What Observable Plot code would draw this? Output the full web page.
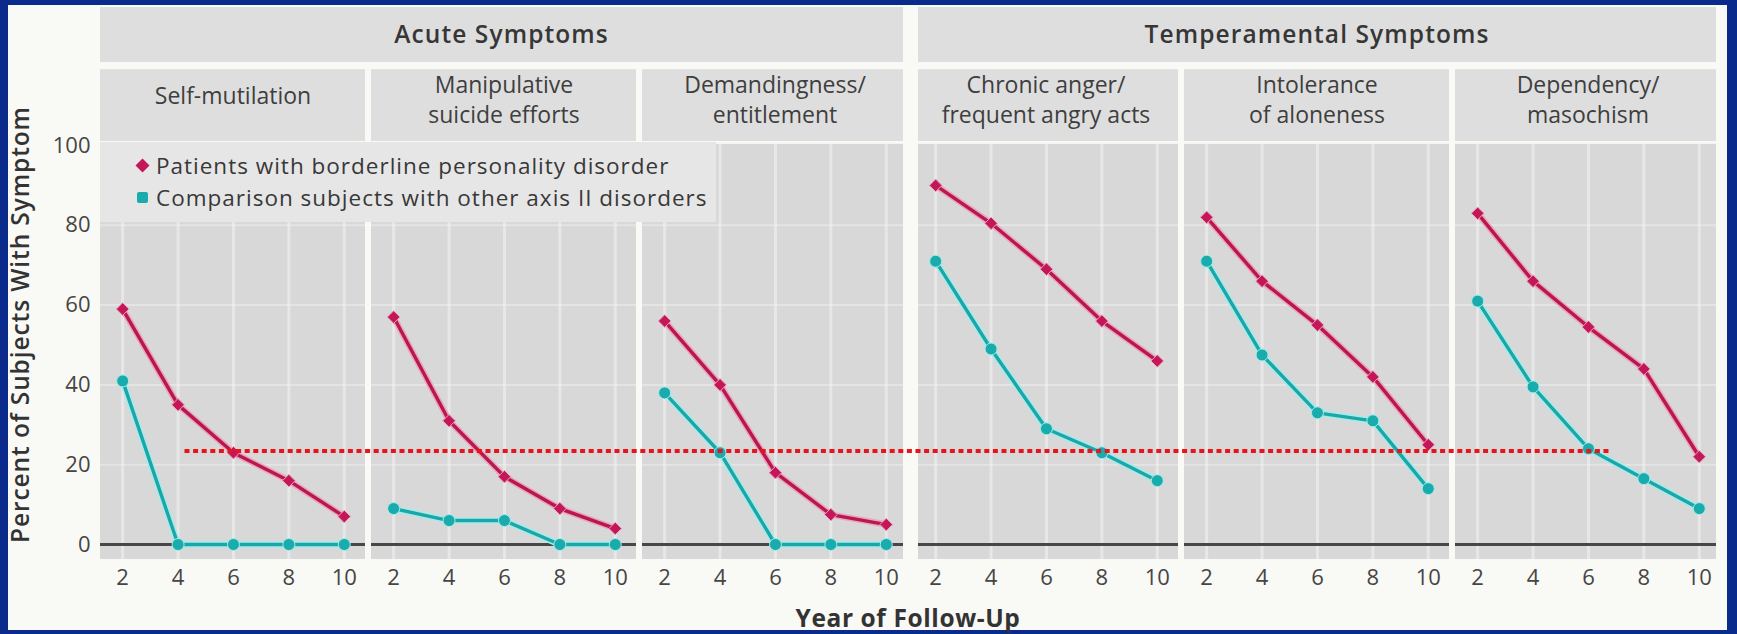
<!DOCTYPE html>
<html>
<head>
<meta charset="utf-8">
<script src="https://cdn.jsdelivr.net/npm/d3@7"></script>
<script src="https://cdn.jsdelivr.net/npm/@observablehq/plot@0.6"></script>
<style>
  html, body { margin: 0; padding: 0; width: 1737px; height: 634px; overflow: hidden; background: #0a2a8c; }
  #frame { position: absolute; left: 8px; top: 5px; width: 1719px; height: 625px; background: #f9f9f6;
           font-family: "Open Sans", sans-serif; }
  #chart { position: absolute; left: 0; top: 0; }
  #legend { position: absolute; left: 92px; top: 137px; width: 616px; height: 80px; background: #e6e6e6; }
  .item { position: absolute; left: 0; height: 30px; display: flex; align-items: center; font-size: 22.5px; letter-spacing: 1px; color: #383838; white-space: nowrap; }
  .item svg { margin-left: 35px; margin-right: 6px; }
</style>
</head>
<body>
<div id="frame">
  <div id="chart"></div>
  <div id="legend"></div>
</div>
<script>
// ---------------- data ----------------
const panels = [
  "Self-mutilation",
  "Manipulative\nsuicide efforts",
  "Demandingness/\nentitlement",
  "Chronic anger/\nfrequent angry acts",
  "Intolerance\nof aloneness",
  "Dependency/\nmasochism"
];
const groups = ["Acute Symptoms", "Temperamental Symptoms"];
const panelGroup = [0, 0, 0, 1, 1, 1];
const years = [2, 4, 6, 8, 10];
const seriesNames = [
  "Patients with borderline personality disorder",
  "Comparison subjects with other axis II disorders"
];
const borderline = [
  [59, 35, 23, 16, 7],
  [57, 31, 17, 9, 4],
  [56, 40, 18, 7.5, 5],
  [90, 80.5, 69, 56, 46],
  [82, 66, 55, 42, 25],
  [83, 66, 54.5, 44, 22]
];
const comparison = [
  [41, 0, 0, 0, 0],
  [9, 6, 6, 0, 0],
  [38, 23, 0, 0, 0],
  [71, 49, 29, 23, 16],
  [71, 47.5, 33, 31, 14],
  [61, 39.5, 24, 16.5, 9]
];
const yTicks = [0, 20, 40, 60, 80, 100];
const gridY = [20, 40, 60, 80];
const threshold = 23.3;
const thresholdFrom = [0, 4.25]; // [panel index, year]
const thresholdTo = [5, 6.85];
const xTitle = "Year of Follow-Up";
const yTitle = "Percent of Subjects With Symptom";

// ---------------- layout / style ----------------
const W = 1719, H = 625;
const ML = 92, MR = 7, MT = 140, MB = 86;
const STEP = 271, BAND = 265, PXU = 27.7;
const X0 = 1.2, X1 = X0 + BAND / PXU;
const ext = panels.map((p, i) => [i === 3 ? X0 + 5 / PXU : X0, (i === 2 || i === 5) ? X1 - 4 / PXU : X1]);
const COLORS = { red: "#b9174f", redHalo: "#eaa6be", redDot: "#c4175a", teal: "#1ca6a7", tealHalo: "#a4ecec", tealDot: "#1aabac" };
const PANEL_BG = "#d8d8d8", HEAD_BG = "#dedede";

const rows = [];
panels.forEach((p, i) => years.forEach((yr, j) => {
  rows.push({ panel: p, year: yr, value: borderline[i][j], s: 0 });
  rows.push({ panel: p, year: yr, value: comparison[i][j], s: 1 });
}));
const panelRows = panels.map((p, i) => ({ panel: p, x1: ext[i][0], x2: ext[i][1], ty: p.includes("\n") ? 111.7 : 112.8 }));
const gridRows = panelRows.flatMap(r => gridY.map(v => ({ ...r, v })));

const plot = Plot.plot({
  width: W, height: H,
  marginLeft: ML, marginRight: MR, marginTop: MT, marginBottom: MB,
  style: { fontFamily: '"Open Sans", sans-serif', fontSize: "22px", color: "#454545", background: "transparent", overflow: "visible" },
  fx: { domain: panels, axis: null, paddingInner: (STEP - BAND) / STEP, paddingOuter: 0, label: null },
  x: { domain: [X0, X1], ticks: years, tickSize: 0, tickPadding: 25, label: null },
  y: { domain: [0, 100], ticks: yTicks, tickSize: 0, tickPadding: 10, label: null },
  marks: [
    // subheader boxes + titles
    Plot.rect(panelRows, { fx: "panel", x1: "x1", x2: "x2", y1: 101, y2: 119, fill: HEAD_BG }),
    Plot.text(panelRows, { fx: "panel", x: (X0 + X1) / 2, y: "ty", text: "panel", fontSize: 23, fill: "#3e3e3e", lineHeight: 1.3, style: "letter-spacing:0.4px" }),
    // panel backgrounds
    Plot.rect(panelRows, { fx: "panel", x1: "x1", x2: "x2", y1: -3.75, y2: 100.3, fill: PANEL_BG }),
    Plot.ruleY(gridRows, { fx: "panel", x1: "x1", x2: "x2", y: "v", stroke: "#f4f4f4", strokeOpacity: 0.45, strokeWidth: 2 }),
    Plot.ruleX(years, { y1: -3.75, y2: 100.3, stroke: "#f4f4f4", strokeOpacity: 0.55, strokeWidth: 3 }),
    Plot.ruleY(panelRows, { fx: "panel", x1: "x1", x2: "x2", y: 0, stroke: "#474747", strokeWidth: 3.2 }),
    // series
    Plot.line(rows, { filter: d => d.s === 1, fx: "panel", x: "year", y: "value", stroke: COLORS.tealHalo, strokeWidth: 6.5 }),
    Plot.line(rows, { filter: d => d.s === 1, fx: "panel", x: "year", y: "value", stroke: COLORS.teal, strokeWidth: 3.4 }),
    Plot.dot(rows, { filter: d => d.s === 1, fx: "panel", x: "year", y: "value", r: 6, fill: COLORS.tealDot, stroke: COLORS.tealHalo, strokeWidth: 1 }),
    Plot.line(rows, { filter: d => d.s === 0, fx: "panel", x: "year", y: "value", stroke: COLORS.redHalo, strokeWidth: 6.5 }),
    Plot.line(rows, { filter: d => d.s === 0, fx: "panel", x: "year", y: "value", stroke: COLORS.red, strokeWidth: 3.4 }),
    Plot.dot(rows, { filter: d => d.s === 0, fx: "panel", x: "year", y: "value", symbol: "diamond2", r: 5.7, fill: COLORS.redDot, stroke: COLORS.redHalo, strokeWidth: 1 })
  ]
});
document.getElementById("chart").appendChild(plot);

// ---------------- annotations using the plot's scales ----------------
const fxS = plot.scale("fx"), xS = plot.scale("x"), yS = plot.scale("y");
const pos = (i, v) => fxS.apply(panels[i]) + xS.apply(v) - xS.range[0];
const svg = d3.select(plot);

groups.forEach((g, gi) => {
  const idx = panelGroup.map((k, i) => k === gi ? i : -1).filter(i => i >= 0);
  const a = pos(idx[0], ext[idx[0]][0]), b = pos(idx[idx.length - 1], ext[idx[idx.length - 1]][1]);
  svg.append("rect").attr("x", a).attr("y", 2).attr("width", b - a).attr("height", 55).attr("fill", HEAD_BG);
  svg.append("text").attr("x", (a + b) / 2).attr("y", 28.5).attr("text-anchor", "middle").attr("dominant-baseline", "central")
    .attr("font-size", 24.5).attr("font-weight", 600).attr("letter-spacing", "1.1px").attr("fill", "#363636").text(g);
});

svg.append("line")
  .attr("x1", pos(thresholdFrom[0], thresholdFrom[1])).attr("x2", pos(thresholdTo[0], thresholdTo[1]))
  .attr("y1", yS.apply(threshold)).attr("y2", yS.apply(threshold))
  .attr("stroke", "#e8141c").attr("stroke-width", 4).attr("stroke-dasharray", "5 3.6");

svg.append("text").attr("transform", `translate(11,${(yS.apply(55))}) rotate(-90)`)
  .attr("text-anchor", "middle").attr("dominant-baseline", "central")
  .attr("font-size", 24.5).attr("font-weight", 600).attr("letter-spacing", "0.9px").attr("fill", "#333").text(yTitle);

svg.append("text").attr("x", (pos(0, ext[0][0]) + pos(5, ext[5][1])) / 2).attr("y", 612)
  .attr("text-anchor", "middle").attr("dominant-baseline", "central")
  .attr("font-size", 24.5).attr("font-weight", 700).attr("letter-spacing", "0.6px").attr("fill", "#333").text(xTitle);

// ---------------- legend ----------------
const legend = document.getElementById("legend");
seriesNames.forEach((name, i) => {
  const div = document.createElement("div");
  div.className = "item";
  div.style.top = (i === 0 ? 8 : 40) + "px";
  const mark = i === 0
    ? `<svg width="15" height="15" viewBox="0 0 15 15"><path d="M7.5 0.5L14.5 7.5L7.5 14.5L0.5 7.5Z" fill="${COLORS.redDot}"/></svg>`
    : `<svg width="15" height="15" viewBox="0 0 15 15"><rect x="2" y="2" width="11" height="11" rx="2" fill="${COLORS.tealDot}"/></svg>`;
  div.innerHTML = mark + `<span>${name}</span>`;
  legend.appendChild(div);
});
</script>
</body>
</html>
